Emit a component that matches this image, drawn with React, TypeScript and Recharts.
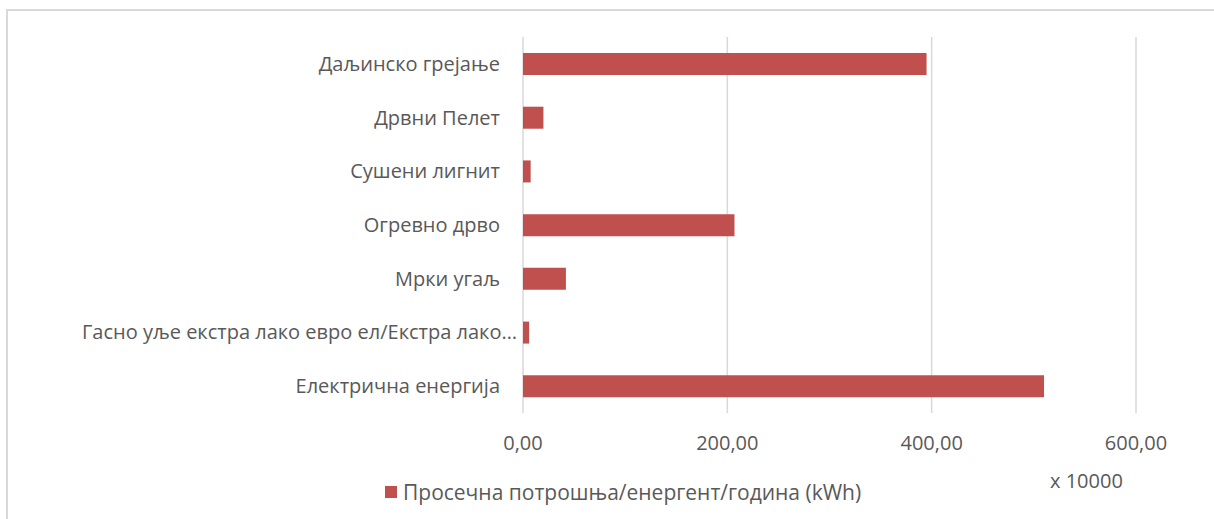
import { BarChart, Bar, XAxis, YAxis, CartesianGrid, Legend } from 'recharts';

const categories = [
  'Даљинско грејање',
  'Дрвни Пелет',
  'Сушени лигнит',
  'Огревно дрво',
  'Мрки угаљ',
  'Гасно уље екстра лако евро ел/Екстра лако…',
  'Електрична енергија',
];

// x 10000 kWh
const consumption = [395, 20, 7.5, 207, 42, 6, 510];

const xTicks = [0, 200, 400, 600];

const seriesName = 'Просечна потрошња/енергент/година (kWh)';

const FONT = '"Open Sans", "Noto Sans", sans-serif';
const TEXT = '#595959';
const BAR = '#C0504D';
const FS = 20;

const chartData = categories.map((name, i) => ({ name, value: consumption[i] }));

const fmt = (v: number) => v.toFixed(2).replace('.', ',');

// excel pushes the truncated label a bit closer to the axis
const CategoryTick = (props: any) => {
  const { x, y, payload } = props;
  const label: string = payload.value;
  const shift = label.endsWith('…') ? 17 : 0;
  return (
    <text x={x + shift} y={y} dy="0.35em" textAnchor="end" fill={TEXT} fontSize={FS} fontFamily={FONT}>
      {label}
    </text>
  );
};

const LegendBox = () => (
  <div
    style={{
      position: 'absolute',
      left: 385,
      top: 478,
      height: 28,
      display: 'flex',
      alignItems: 'center',
      fontFamily: FONT,
      fontSize: 21,
      color: TEXT,
      whiteSpace: 'nowrap',
    }}
  >
    <span style={{ width: 12, height: 12, background: BAR, display: 'inline-block', marginRight: 6 }} />
    {seriesName}
  </div>
);

export default function App() {
  return (
    <div style={{ position: 'absolute', left: 0, top: 0, width: 1214, height: 519, background: '#fff', overflow: 'hidden' }}>
      <div
        style={{
          position: 'absolute',
          left: 6,
          top: 9,
          width: 1220,
          height: 530,
          borderTop: '2px solid #d9d9d9',
          borderLeft: '2px solid #d9d9d9',
        }}
      />
      <BarChart
        width={1214}
        height={519}
        layout="vertical"
        data={chartData}
        margin={{ top: 37, right: 78, left: 0, bottom: 76 }}
        style={{ position: 'absolute', left: 0, top: 0 }}
      >
        <CartesianGrid horizontal={false} stroke="#d9d9d9" strokeWidth={1.5} />
        <XAxis
          type="number"
          domain={[0, 600]}
          ticks={xTicks}
          tickFormatter={fmt}
          axisLine={false}
          tickLine={false}
          tickSize={0}
          tickMargin={23}
          height={30}
          tick={{ fill: TEXT, fontSize: FS, fontFamily: FONT }}
        />
        <YAxis
          type="category"
          dataKey="name"
          width={523}
          axisLine={false}
          tickLine={false}
          tickSize={0}
          tickMargin={23}
          interval={0}
          tick={<CategoryTick />}
        />
        <Bar dataKey="value" name={seriesName} fill={BAR} barSize={22} isAnimationActive={false} />
        <Legend content={() => null} />
      </BarChart>
      <LegendBox />
      <div
        style={{
          position: 'absolute',
          left: 1050,
          top: 467,
          height: 28,
          lineHeight: '28px',
          fontFamily: FONT,
          fontSize: FS,
          color: TEXT,
          whiteSpace: 'nowrap',
        }}
      >
        x 10000
      </div>
    </div>
  );
}
